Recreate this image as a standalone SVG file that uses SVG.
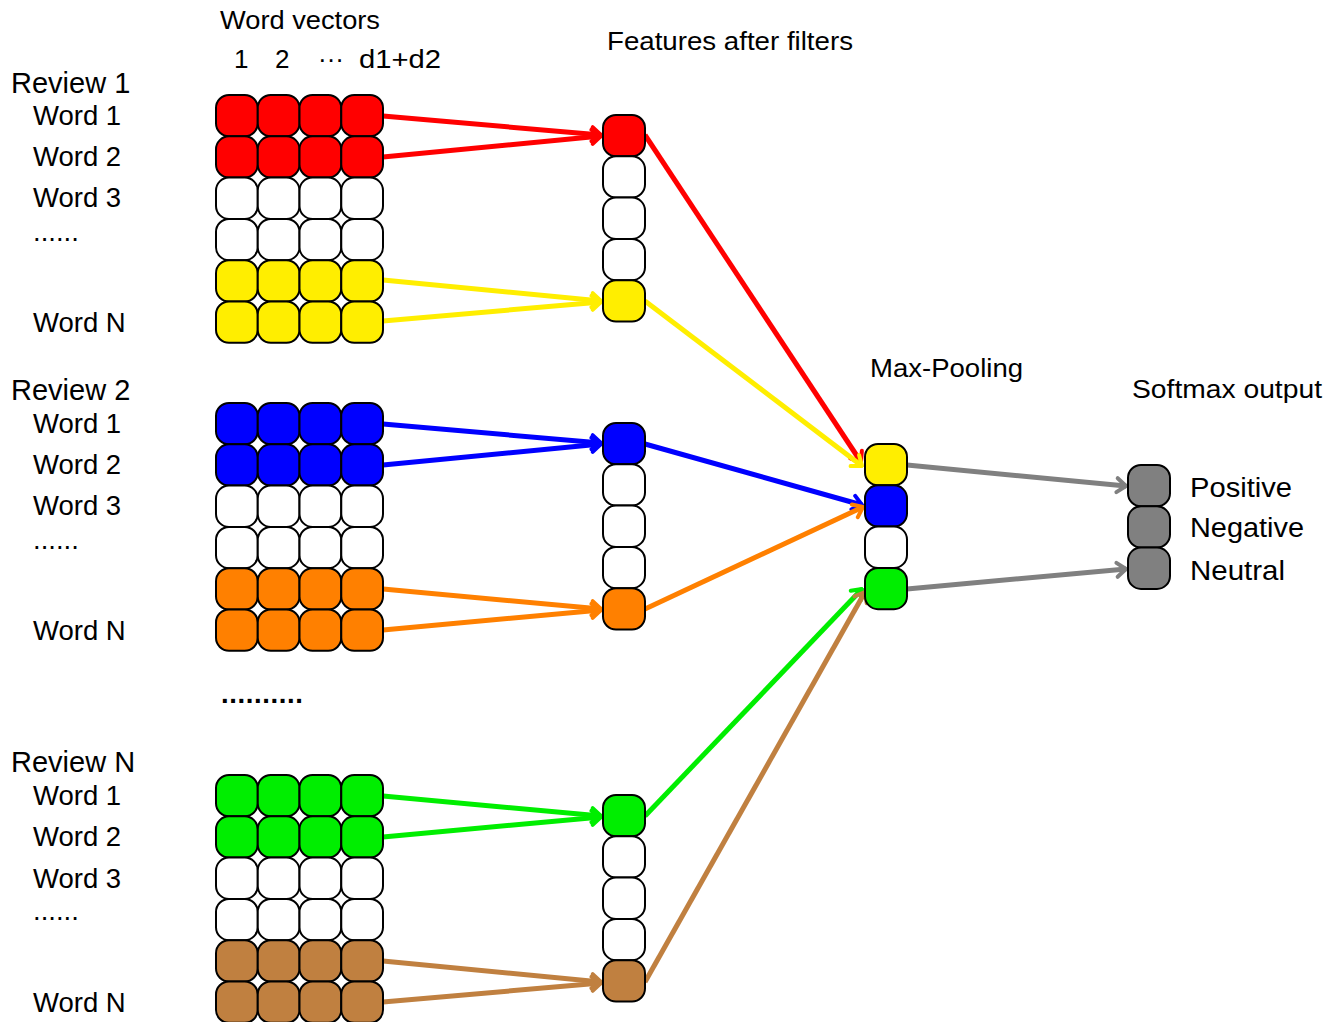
<svg xmlns="http://www.w3.org/2000/svg" xmlns:xlink="http://www.w3.org/1999/xlink" width="1342" height="1022" viewBox="0 0 1342 1022">
  <style>
    text { font-family: "Liberation Sans", Arial, sans-serif; fill: #000; }
    .lbl { font-size: 27.5px; }
    .rev { font-size: 29px; }
    .hd { font-size: 26px; }
    .cell { stroke: #000; stroke-width: 2; }
    .wire { fill: none; stroke-width: 5; }
  </style>
  <defs>
    <!-- one row of four word-vector cells; fill is inherited from the <use> -->
    <g id="row4">
      <rect class="cell" x="216" y="0" width="41.75" height="41.3" rx="13"/>
      <rect class="cell" x="257.75" y="0" width="41.75" height="41.3" rx="13"/>
      <rect class="cell" x="299.5" y="0" width="41.75" height="41.3" rx="13"/>
      <rect class="cell" x="341.25" y="0" width="41.75" height="41.3" rx="13"/>
    </g>
    <rect id="one" class="cell" x="0" y="0" width="42" height="41.3" rx="13"/>
    <marker id="a-red" markerUnits="userSpaceOnUse" viewBox="-14 -10 16 20" markerWidth="16" markerHeight="20" refX="0" refY="0" orient="auto"><path d="M-9,-7 L0,0 L-9,7" fill="none" stroke="#ff0000" stroke-width="4" stroke-linecap="round" stroke-linejoin="round"/></marker>
    <marker id="a-yellow" markerUnits="userSpaceOnUse" viewBox="-14 -10 16 20" markerWidth="16" markerHeight="20" refX="0" refY="0" orient="auto"><path d="M-9,-7 L0,0 L-9,7" fill="none" stroke="#ffee00" stroke-width="4" stroke-linecap="round" stroke-linejoin="round"/></marker>
    <marker id="a-blue" markerUnits="userSpaceOnUse" viewBox="-14 -10 16 20" markerWidth="16" markerHeight="20" refX="0" refY="0" orient="auto"><path d="M-9,-7 L0,0 L-9,7" fill="none" stroke="#0000ff" stroke-width="4" stroke-linecap="round" stroke-linejoin="round"/></marker>
    <marker id="a-orange" markerUnits="userSpaceOnUse" viewBox="-14 -10 16 20" markerWidth="16" markerHeight="20" refX="0" refY="0" orient="auto"><path d="M-9,-7 L0,0 L-9,7" fill="none" stroke="#ff8000" stroke-width="4" stroke-linecap="round" stroke-linejoin="round"/></marker>
    <marker id="a-green" markerUnits="userSpaceOnUse" viewBox="-14 -10 16 20" markerWidth="16" markerHeight="20" refX="0" refY="0" orient="auto"><path d="M-9,-7 L0,0 L-9,7" fill="none" stroke="#00ee00" stroke-width="4" stroke-linecap="round" stroke-linejoin="round"/></marker>
    <marker id="a-brown" markerUnits="userSpaceOnUse" viewBox="-14 -10 16 20" markerWidth="16" markerHeight="20" refX="0" refY="0" orient="auto"><path d="M-9,-7 L0,0 L-9,7" fill="none" stroke="#c08040" stroke-width="4" stroke-linecap="round" stroke-linejoin="round"/></marker>
    <marker id="a-gray" markerUnits="userSpaceOnUse" viewBox="-14 -10 16 20" markerWidth="16" markerHeight="20" refX="0" refY="0" orient="auto"><path d="M-9,-7 L0,0 L-9,7" fill="none" stroke="#808080" stroke-width="4" stroke-linecap="round" stroke-linejoin="round"/></marker>
  </defs>

  <rect x="0" y="0" width="1342" height="1022" fill="#fff"/>

  <!-- headings -->
  <g id="headings">
    <text class="hd" x="220" y="29" textLength="160" lengthAdjust="spacingAndGlyphs">Word vectors</text>
    <text class="hd" x="234" y="68">1</text>
    <text class="hd" x="275" y="68">2</text>
    <text class="hd" x="318" y="68">···</text>
    <text class="hd" x="359" y="68" textLength="82" lengthAdjust="spacingAndGlyphs">d1+d2</text>
    <text class="hd" x="607" y="50" textLength="246" lengthAdjust="spacingAndGlyphs">Features after filters</text>
    <text class="hd" x="870" y="377" textLength="153" lengthAdjust="spacingAndGlyphs">Max-Pooling</text>
    <text class="hd" x="1132" y="398" textLength="190" lengthAdjust="spacingAndGlyphs">Softmax output</text>
  </g>

  <!-- connectors -->
  <g id="connectors">
    <line class="wire" stroke="#ff0000" x1="383" y1="116" x2="601" y2="135" marker-end="url(#a-red)"/>
    <line class="wire" stroke="#ff0000" x1="383" y1="157" x2="601" y2="136" marker-end="url(#a-red)"/>
    <line class="wire" stroke="#ffee00" x1="383" y1="280" x2="601" y2="301" marker-end="url(#a-yellow)"/>
    <line class="wire" stroke="#ffee00" x1="383" y1="321" x2="601" y2="302" marker-end="url(#a-yellow)"/>

    <line class="wire" stroke="#0000ff" x1="383" y1="424" x2="601" y2="443" marker-end="url(#a-blue)"/>
    <line class="wire" stroke="#0000ff" x1="383" y1="465" x2="601" y2="444" marker-end="url(#a-blue)"/>
    <line class="wire" stroke="#ff8000" x1="383" y1="589" x2="601" y2="609" marker-end="url(#a-orange)"/>
    <line class="wire" stroke="#ff8000" x1="383" y1="630" x2="601" y2="610" marker-end="url(#a-orange)"/>

    <line class="wire" stroke="#00ee00" x1="383" y1="796" x2="601" y2="816" marker-end="url(#a-green)"/>
    <line class="wire" stroke="#00ee00" x1="383" y1="837" x2="601" y2="817" marker-end="url(#a-green)"/>
    <line class="wire" stroke="#c08040" x1="383" y1="961" x2="601" y2="982" marker-end="url(#a-brown)"/>
    <line class="wire" stroke="#c08040" x1="383" y1="1002" x2="601" y2="983" marker-end="url(#a-brown)"/>

    <line class="wire" stroke="#ff0000" x1="645" y1="135" x2="861" y2="462" marker-end="url(#a-red)"/>
    <line class="wire" stroke="#ffee00" x1="645" y1="301" x2="862" y2="466" marker-end="url(#a-yellow)"/>
    <line class="wire" stroke="#0000ff" x1="645" y1="444" x2="862" y2="505" marker-end="url(#a-blue)"/>
    <line class="wire" stroke="#ff8000" x1="645" y1="609" x2="863" y2="507" marker-end="url(#a-orange)"/>
    <line class="wire" stroke="#00ee00" x1="645" y1="816" x2="862" y2="589" marker-end="url(#a-green)"/>
    <line class="wire" stroke="#c08040" x1="645" y1="982" x2="865" y2="592" marker-end="url(#a-brown)"/>

    <line class="wire" stroke="#808080" x1="907" y1="465" x2="1126" y2="486" marker-end="url(#a-gray)"/>
    <line class="wire" stroke="#808080" x1="907" y1="589" x2="1126" y2="569" marker-end="url(#a-gray)"/>
  </g>

  <!-- review 1 -->
  <g id="review1-labels">
    <text class="rev" x="11" y="93">Review 1</text>
    <text class="lbl" x="33" y="125">Word 1</text>
    <text class="lbl" x="33" y="166">Word 2</text>
    <text class="lbl" x="33" y="207">Word 3</text>
    <text class="lbl" x="33" y="241">......</text>
    <text class="lbl" x="33" y="332">Word N</text>
  </g>
  <g id="review1-vectors">
    <use xlink:href="#row4" y="95" fill="#ff0000"/>
    <use xlink:href="#row4" y="136.3" fill="#ff0000"/>
    <use xlink:href="#row4" y="177.6" fill="#ffffff"/>
    <use xlink:href="#row4" y="218.9" fill="#ffffff"/>
    <use xlink:href="#row4" y="260.2" fill="#ffee00"/>
    <use xlink:href="#row4" y="301.5" fill="#ffee00"/>
  </g>
  <g id="review1-features">
    <use xlink:href="#one" x="603" y="115" fill="#ff0000"/>
    <use xlink:href="#one" x="603" y="156.3" fill="#ffffff"/>
    <use xlink:href="#one" x="603" y="197.6" fill="#ffffff"/>
    <use xlink:href="#one" x="603" y="238.9" fill="#ffffff"/>
    <use xlink:href="#one" x="603" y="280.2" fill="#ffee00"/>
  </g>

  <!-- review 2 -->
  <g id="review2-labels">
    <text class="rev" x="11" y="400">Review 2</text>
    <text class="lbl" x="33" y="433">Word 1</text>
    <text class="lbl" x="33" y="474">Word 2</text>
    <text class="lbl" x="33" y="515">Word 3</text>
    <text class="lbl" x="33" y="549">......</text>
    <text class="lbl" x="33" y="640">Word N</text>
  </g>
  <g id="review2-vectors">
    <use xlink:href="#row4" y="403" fill="#0000ff"/>
    <use xlink:href="#row4" y="444.3" fill="#0000ff"/>
    <use xlink:href="#row4" y="485.6" fill="#ffffff"/>
    <use xlink:href="#row4" y="526.9" fill="#ffffff"/>
    <use xlink:href="#row4" y="568.2" fill="#ff8000"/>
    <use xlink:href="#row4" y="609.5" fill="#ff8000"/>
  </g>
  <g id="review2-features">
    <use xlink:href="#one" x="603" y="423" fill="#0000ff"/>
    <use xlink:href="#one" x="603" y="464.3" fill="#ffffff"/>
    <use xlink:href="#one" x="603" y="505.6" fill="#ffffff"/>
    <use xlink:href="#one" x="603" y="546.9" fill="#ffffff"/>
    <use xlink:href="#one" x="603" y="588.2" fill="#ff8000"/>
  </g>

  <g id="more-reviews">
    <text class="lbl" x="221" y="703" font-weight="bold" textLength="82" lengthAdjust="spacing">..........</text>
  </g>

  <!-- review N -->
  <g id="reviewN-labels">
    <text class="rev" x="11" y="772">Review N</text>
    <text class="lbl" x="33" y="805">Word 1</text>
    <text class="lbl" x="33" y="846">Word 2</text>
    <text class="lbl" x="33" y="888">Word 3</text>
    <text class="lbl" x="33" y="920">......</text>
    <text class="lbl" x="33" y="1012">Word N</text>
  </g>
  <g id="reviewN-vectors">
    <use xlink:href="#row4" y="775" fill="#00ee00"/>
    <use xlink:href="#row4" y="816.3" fill="#00ee00"/>
    <use xlink:href="#row4" y="857.6" fill="#ffffff"/>
    <use xlink:href="#row4" y="898.9" fill="#ffffff"/>
    <use xlink:href="#row4" y="940.2" fill="#c08040"/>
    <use xlink:href="#row4" y="981.5" fill="#c08040"/>
  </g>
  <g id="reviewN-features">
    <use xlink:href="#one" x="603" y="795" fill="#00ee00"/>
    <use xlink:href="#one" x="603" y="836.3" fill="#ffffff"/>
    <use xlink:href="#one" x="603" y="877.6" fill="#ffffff"/>
    <use xlink:href="#one" x="603" y="918.9" fill="#ffffff"/>
    <use xlink:href="#one" x="603" y="960.2" fill="#c08040"/>
  </g>

  <!-- pooled features -->
  <g id="max-pooling">
    <use xlink:href="#one" x="865" y="444" fill="#ffee00"/>
    <use xlink:href="#one" x="865" y="485.3" fill="#0000ff"/>
    <use xlink:href="#one" x="865" y="526.6" fill="#ffffff"/>
    <use xlink:href="#one" x="865" y="567.9" fill="#00ee00"/>
  </g>

  <!-- output classes -->
  <g id="softmax">
    <use xlink:href="#one" x="1128" y="465" fill="#808080"/>
    <use xlink:href="#one" x="1128" y="506.3" fill="#808080"/>
    <use xlink:href="#one" x="1128" y="547.6" fill="#808080"/>
    <text class="lbl" x="1190" y="497" textLength="102" lengthAdjust="spacingAndGlyphs">Positive</text>
    <text class="lbl" x="1190" y="537" textLength="114" lengthAdjust="spacingAndGlyphs">Negative</text>
    <text class="lbl" x="1190" y="580" textLength="95" lengthAdjust="spacingAndGlyphs">Neutral</text>
  </g>
</svg>
